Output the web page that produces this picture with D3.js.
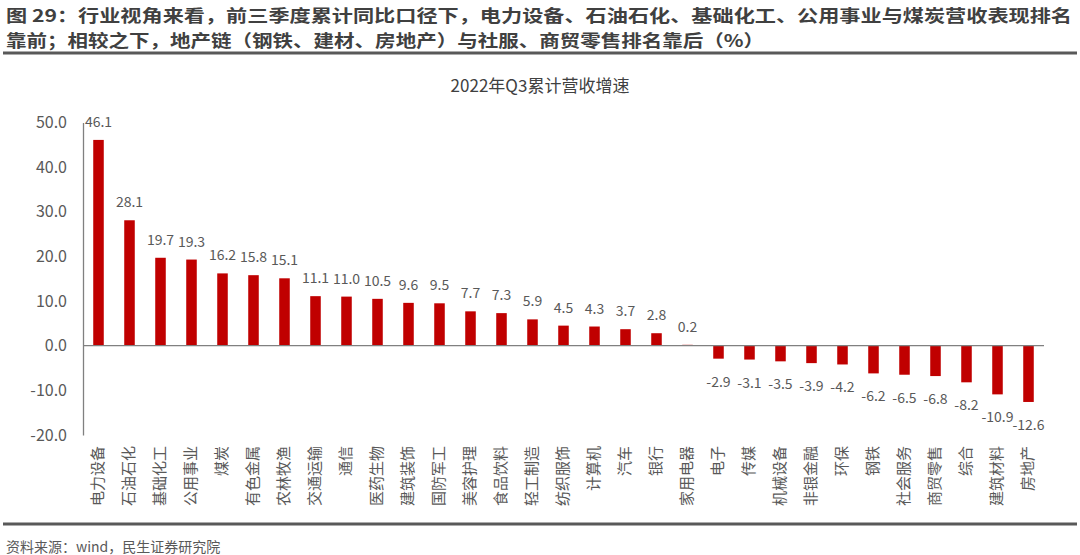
<!DOCTYPE html>
<html><head><meta charset="utf-8">
<script src="https://cdn.jsdelivr.net/npm/d3@7/dist/d3.min.js"></script>
<style>body{margin:0;background:#fff;}svg{display:block;font-family:"Noto Sans CJK SC","Microsoft YaHei",sans-serif;}</style>
</head><body>
<script>
const categories = ["电力设备","石油石化","基础化工","公用事业","煤炭","有色金属","农林牧渔","交通运输","通信","医药生物","建筑装饰","国防军工","美容护理","食品饮料","轻工制造","纺织服饰","计算机","汽车","银行","家用电器","电子","传媒","机械设备","非银金融","环保","钢铁","社会服务","商贸零售","综合","建筑材料","房地产"];
const values = [46.1,28.1,19.7,19.3,16.2,15.8,15.1,11.1,11.0,10.5,9.6,9.5,7.7,7.3,5.9,4.5,4.3,3.7,2.8,0.2,-2.9,-3.1,-3.5,-3.9,-4.2,-6.2,-6.5,-6.8,-8.2,-10.9,-12.6];
const yTicks = [-20,-10,0,10,20,30,40,50];
const titleLines = ["图 29：行业视角来看，前三季度累计同比口径下，电力设备、石油石化、基础化工、公用事业与煤炭营收表现排名","靠前；相较之下，地产链（钢铁、建材、房地产）与社服、商贸零售排名靠后（%）"];
const chartTitle = "2022年Q3累计营收增速";
const source = "资料来源：wind，民生证券研究院";

const W = 1080, H = 555;
const svg = d3.select("body").append("svg").attr("width", W).attr("height", H);
const fmt = d => d3.format(".1f")(d).replace("\u2212", "-");

// header
svg.append("text").attr("x", 6).attr("y", 22).attr("font-size", 17).attr("font-weight", "bold")
  .attr("fill", "#404040").attr("textLength", 1066).attr("lengthAdjust", "spacingAndGlyphs").text(titleLines[0]);
svg.append("text").attr("x", 6).attr("y", 47).attr("font-size", 17).attr("font-weight", "bold")
  .attr("fill", "#404040").attr("textLength", 758).attr("lengthAdjust", "spacingAndGlyphs").text(titleLines[1]);
svg.append("line").attr("x1", 3).attr("x2", 1077).attr("y1", 53).attr("y2", 53).attr("stroke", "#595959").attr("stroke-width", 3);
svg.append("line").attr("x1", 3).attr("x2", 1077).attr("y1", 524).attr("y2", 524).attr("stroke", "#595959").attr("stroke-width", 3);
svg.append("text").attr("x", 6).attr("y", 552).attr("font-size", 14).attr("fill", "#595959").text(source);

svg.append("text").attr("x", 540).attr("y", 92).attr("text-anchor", "middle").attr("font-size", 17)
  .attr("fill", "#404040").text(chartTitle);

const x = d3.scaleBand().domain(categories).range([83, 1044]).paddingInner(0.66).paddingOuter(0.33);
const y = d3.scaleLinear().domain([-20, 50]).range([435, 122.5]);

// y axis
const yAxis = d3.axisLeft(y).tickValues(yTicks).tickFormat(fmt).tickSize(0).tickPadding(16);
const ga = svg.append("g").attr("transform", "translate(83,0)").call(yAxis);
ga.select(".domain").attr("stroke", "#808080").attr("stroke-width", 1.3);
ga.selectAll("text").attr("font-size", 16).attr("fill", "#595959").attr("font-family", '"Noto Sans CJK SC",sans-serif');

// bars
svg.append("g").selectAll("rect").data(values).join("rect")
  .attr("x", (d, i) => x(categories[i]))
  .attr("width", x.bandwidth())
  .attr("y", d => y(Math.max(0, d)))
  .attr("height", d => Math.abs(y(d) - y(0)))
  .attr("fill", "#C00000");

// zero line
svg.append("line").attr("x1", 83).attr("x2", 1044).attr("y1", y(0)).attr("y2", y(0))
  .attr("stroke", "#808080").attr("stroke-width", 1.3);

// value labels
svg.append("g").selectAll("text").data(values).join("text")
  .attr("x", (d, i) => x(categories[i]) + x.bandwidth() / 2)
  .attr("y", d => d >= 0 ? y(d) - 13 : y(d) + 28)
  .attr("text-anchor", "middle").attr("font-size", 14).attr("fill", "#595959")
  .text(fmt);

// category labels rotated
svg.append("g").selectAll("text").data(categories).join("text")
  .attr("transform", d => `translate(${x(d) + x.bandwidth() / 2 - 1},446) rotate(-90)`)
  .attr("text-anchor", "end").attr("dy", "0.35em").attr("font-size", 15).attr("fill", "#595959")
  .text(d => d);
</script>
</body></html>
